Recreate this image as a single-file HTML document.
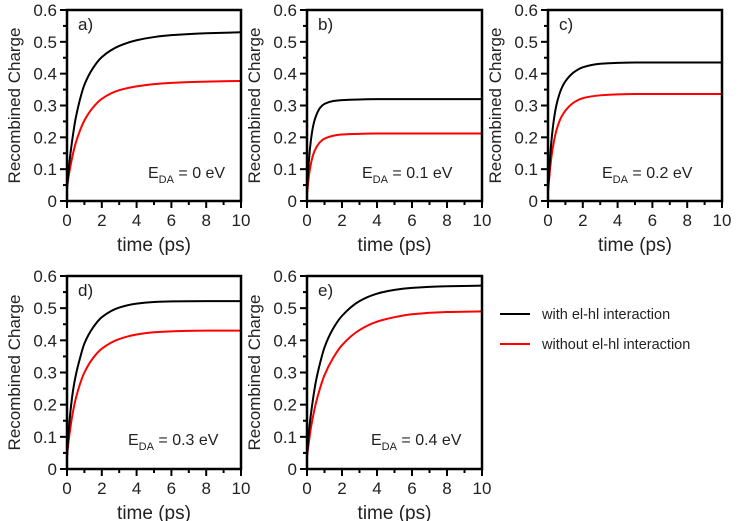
<!DOCTYPE html>
<html><head><meta charset="utf-8"><style>
body{margin:0;background:#fff}
svg{display:block;font-family:"Liberation Sans",sans-serif}
</style></head><body>
<svg id="c" width="740" height="521"></svg>
<script>
const times=[0,0.1,0.2,0.35,0.5,0.75,1,1.5,2,3,4,5,6,8,10];
const aWith=[0.04,0.10,0.15,0.21,0.26,0.32,0.365,0.418,0.452,0.487,0.505,0.515,0.521,0.527,0.53];
const aWithout=[0.04,0.08,0.11,0.15,0.182,0.222,0.253,0.294,0.321,0.348,0.36,0.367,0.371,0.375,0.377];
const bWith=[0.03,0.12,0.18,0.235,0.265,0.293,0.305,0.314,0.317,0.319,0.32,0.32,0.32,0.32,0.32];
const bWithout=[0.02,0.075,0.11,0.145,0.165,0.185,0.196,0.205,0.209,0.211,0.212,0.212,0.212,0.212,0.212];
const cWith=[0.03,0.12,0.19,0.26,0.305,0.35,0.376,0.405,0.42,0.431,0.434,0.435,0.435,0.435,0.435];
const cWithout=[0.03,0.09,0.14,0.19,0.225,0.262,0.284,0.31,0.323,0.332,0.335,0.336,0.336,0.336,0.336];
const dWith=[0.04,0.12,0.18,0.245,0.29,0.345,0.39,0.44,0.472,0.502,0.514,0.519,0.521,0.522,0.522];
const dWithout=[0.04,0.09,0.13,0.18,0.218,0.265,0.30,0.345,0.374,0.404,0.418,0.425,0.428,0.43,0.43];
const eWith=[0.04,0.11,0.16,0.22,0.27,0.33,0.378,0.437,0.476,0.522,0.545,0.557,0.563,0.568,0.57];
const eWithout=[0.04,0.08,0.12,0.165,0.203,0.252,0.292,0.346,0.385,0.432,0.458,0.472,0.481,0.488,0.49];
const xTicks=[0,2,4,6,8,10];
const yTicks=[0,0.1,0.2,0.3,0.4,0.5,0.6];
const panels=[
 {id:'a',label:'a)',eda:'0',w:aWith,wo:aWithout,x0:67,x1:241,y0:201,y1:10,ex:148,ey:178},
 {id:'b',label:'b)',eda:'0.1',w:bWith,wo:bWithout,x0:307,x1:482,y0:201,y1:10,ex:362,ey:178},
 {id:'c',label:'c)',eda:'0.2',w:cWith,wo:cWithout,x0:548,x1:722,y0:201,y1:10,ex:602,ey:178},
 {id:'d',label:'d)',eda:'0.3',w:dWith,wo:dWithout,x0:67,x1:241,y0:469,y1:276,ex:128,ey:445},
 {id:'e',label:'e)',eda:'0.4',w:eWith,wo:eWithout,x0:307,x1:482,y0:469,y1:276,ex:371,ey:445}
];
const NS='http://www.w3.org/2000/svg';
const svg=document.getElementById('c');
function mk(t,a,p){const e=document.createElementNS(NS,t);for(const k in a)e.setAttribute(k,a[k]);(p||svg).appendChild(e);return e;}
function monoPath(xs,ys){
 const n=xs.length,d=[],m=new Array(n);
 for(let i=0;i<n-1;i++)d.push((ys[i+1]-ys[i])/(xs[i+1]-xs[i]));
 m[0]=d[0];m[n-1]=d[n-2];
 for(let i=1;i<n-1;i++){if(d[i-1]*d[i]<=0)m[i]=0;else{const h0=xs[i]-xs[i-1],h1=xs[i+1]-xs[i];m[i]=3*(h0+h1)/((2*h1+h0)/d[i-1]+(h1+2*h0)/d[i]);}}
 let s='M'+xs[0]+','+ys[0];
 for(let i=0;i<n-1;i++){const h=xs[i+1]-xs[i];
  s+=' C'+(xs[i]+h/3)+','+(ys[i]+m[i]*h/3)+' '+(xs[i+1]-h/3)+','+(ys[i+1]-m[i+1]*h/3)+' '+xs[i+1]+','+ys[i+1];}
 return s;}
panels.forEach(P=>{
 const g=mk('g',{});
 
 
 const sx=v=>P.x0+(v/10)*(P.x1-P.x0), sy=v=>P.y0-(v/0.6)*(P.y0-P.y1);
 for(let t=0;t<=10;t++){mk('line',{x1:sx(t),x2:sx(t),y1:P.y0,y2:P.y0+(t%2?4:7),stroke:'#000','stroke-width':2},g);}
 for(let k=0;k<=12;k++){const v=k*0.05;mk('line',{x1:P.x0,x2:P.x0-(k%2?4:7),y1:sy(v),y2:sy(v),stroke:'#000','stroke-width':2},g);}
 xTicks.forEach(t=>{const tx=mk('text',{x:sx(t),y:P.y0+25,'text-anchor':'middle','font-size':17,fill:'#222'},g);tx.textContent=t;
  
  });
 yTicks.forEach(v=>{const tx=mk('text',{x:P.x0-10,y:sy(v)+6,'text-anchor':'end','font-size':17,fill:'#222'},g);tx.textContent=v;
  
  });
 const cx=(P.x0+P.x1)/2;
 const xt=mk('text',{x:cx,y:P.y0+50,'text-anchor':'middle','font-size':19,fill:'#222'},g);xt.textContent='time (ps)';
 
 
 const cy=(P.y0+P.y1)/2, yx=P.x0-47;
 const yt=mk('text',{x:yx,y:cy,'text-anchor':'middle','font-size':17,fill:'#222',transform:'rotate(-90 '+yx+' '+cy+')'},g);yt.textContent='Recombined Charge';
 
 
 const ln=(arr,col,nm)=>{const p=mk('path',{d:monoPath(times.map(sx),arr.map(sy)),fill:'none',stroke:col,'stroke-width':2},g);
  
  };
 ln(P.wo,'#f00','line-without-interaction');
 ln(P.w,'#000','line-with-interaction');
 mk('rect',{x:P.x0,y:P.y1,width:P.x1-P.x0,height:P.y0-P.y1,fill:'none',stroke:'#000','stroke-width':2.5},g);
 const lb=mk('text',{x:P.x0+11,y:P.y1+20,'font-size':17,fill:'#222'},g);lb.textContent=P.label;
 
 
 const et=mk('text',{x:P.ex,y:P.ey,'font-size':16,fill:'#222'},g);
 et.innerHTML='E<tspan font-size="11" dy="5">DA</tspan><tspan dy="-5"> = '+P.eda+' eV</tspan>';
 
 
});
const lg=mk('g',{});


[['with el-hl interaction','#000',314],['without el-hl interaction','#f00',344]].forEach(([t,c,y])=>{
 mk('line',{x1:500,x2:530,y1:y,y2:y,stroke:c,'stroke-width':2},lg);
 const tx=mk('text',{x:542,y:y+5,'font-size':14.5,fill:'#222'},lg);tx.textContent=t;
 
 
});
</script>
</body></html>
